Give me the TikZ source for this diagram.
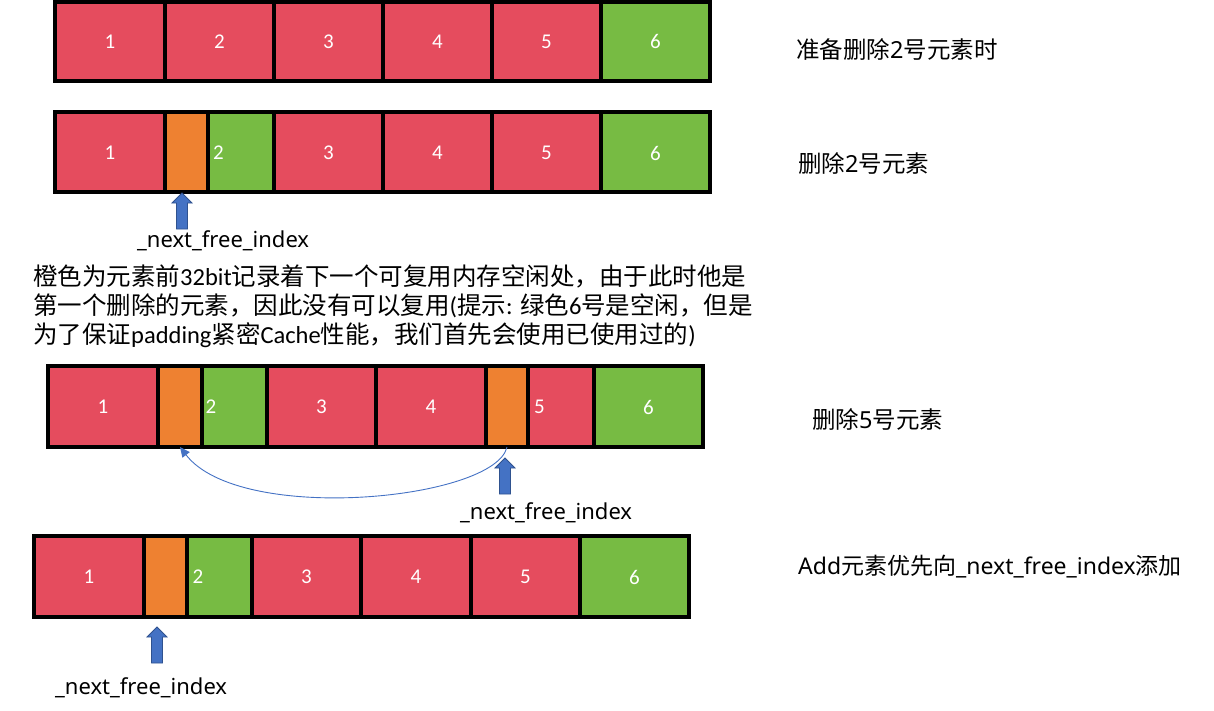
\documentclass[tikz,border=0pt]{standalone}
\usepackage{fontspec}
\setmainfont{Carlito}
\newfontfamily\cjk{Noto Sans CJK SC}
\newfontfamily\nsans{Noto Sans}
\usetikzlibrary{arrows.meta}
\definecolor{cred}{HTML}{E54C5E}
\definecolor{cgreen}{HTML}{77BB43}
\definecolor{corange}{HTML}{EE8131}
\definecolor{cblue}{HTML}{4472C4}
\definecolor{cbluedk}{HTML}{2F528F}
\newcommand\mycell[6]{\node[cell,fill=#6,minimum width={#3-(#2)},minimum height={#5-(#4)}] (#1) at ({(#2+#3)/2},{(#4+#5)/2}) {};}
\newcommand\blockarr[1]{\draw[barr] ([shift={(-5.5,36)}]#1) -- ([shift={(-5.5,10)}]#1) -- ([shift={(-10,10)}]#1) -- (#1) -- ([shift={(10,10)}]#1) -- ([shift={(5.5,10)}]#1) -- ([shift={(5.5,36)}]#1) -- cycle;}
\newcommand\lat[1]{{\rmfamily #1}}
\begin{document}
\begin{tikzpicture}[x=1pt,y=-1pt,
  cell/.style={draw=black,line width=3.6pt,inner sep=0pt,outer sep=0pt},
  num/.style={text=white,font=\fontsize{21}{25}\selectfont,inner sep=0pt},
  barr/.style={fill=cblue,draw=cbluedk,line width=0.8pt,line join=miter},
  idx/.style={font=\nsans\fontsize{22}{26}\selectfont,inner sep=0pt,anchor=base west},
  side/.style={font=\cjk\fontsize{23.5}{27}\selectfont,inner sep=0pt,anchor=base west},
  para/.style={font=\cjk\fontsize{24.5}{29}\selectfont,inner sep=0pt,anchor=base west},
  curv/.style={draw=cblue,line width=0.9pt,-{Triangle[length=10pt,width=9pt]}}]
\useasboundingbox (0,0) rectangle (1214,710);
% Row 1
\mycell{a1}{55}{165}{2}{81}{cred}
\mycell{a2}{165}{274}{2}{81}{cred}
\mycell{a3}{274}{383}{2}{81}{cred}
\mycell{a4}{383}{492}{2}{81}{cred}
\mycell{a5}{492}{601}{2}{81}{cred}
\mycell{a6}{601}{710}{2}{81}{cgreen}
\node[num] (na1) at (110,41.5) {1};
\node[num] (na2) at (219.5,41.5) {2};
\node[num] (na3) at (328.5,41.5) {3};
\node[num] (na4) at (437.5,41.5) {4};
\node[num] (na5) at (546.5,41.5) {5};
\node[num] (na6) at (655.5,41.5) {6};
\node[side] (ta) at (796,58) {准备删除{\nsans 2}号元素时};
% Row 2
\mycell{b1}{55}{165}{112}{192}{cred}
\mycell{bo}{165}{208}{112}{192}{corange}
\mycell{b2}{208}{274}{112}{192}{cgreen}
\mycell{b3}{274}{383}{112}{192}{cred}
\mycell{b4}{383}{492}{112}{192}{cred}
\mycell{b5}{492}{601}{112}{192}{cred}
\mycell{b6}{601}{710}{112}{192}{cgreen}
\node[num] (nb1) at (110,153) {1};
\node[num] (nb2) at (218.5,153) {2};
\node[num] (nb3) at (328.5,153) {3};
\node[num] (nb4) at (437.5,153) {4};
\node[num] (nb5) at (546.5,153) {5};
\node[num] (nb6) at (655.5,153) {6};
\node[side] (tb) at (798,172) {删除{\nsans 2}号元素};
\coordinate (tipb) at (182,193);
\blockarr{tipb}
\node[idx] (lb) at (137,247) {\_next\_free\_index};
% Paragraph
\node[para] (p1) at (33,285) {橙色为元素前\lat{32bit}记录着下一个可复用内存空闲处，由于此时他是};
\node[para] (p2) at (33,314) {第一个删除的元素，因此没有可以复用\lat{(}提示\lat{: }绿色\lat{6}号是空闲，但是};
\node[para] (p3) at (33,343) {为了保证\lat{padding}紧密\lat{Cache}性能，我们首先会使用已使用过的\lat{)}};
% Row 3
\mycell{c1}{48}{158}{366}{447}{cred}
\mycell{co1}{158}{202}{366}{447}{corange}
\mycell{c2}{202}{267}{366}{447}{cgreen}
\mycell{c3}{267}{376}{366}{447}{cred}
\mycell{c4}{376}{486}{366}{447}{cred}
\mycell{co2}{486}{528}{366}{447}{corange}
\mycell{c5}{528}{594}{366}{447}{cred}
\mycell{c6}{594}{703}{366}{447}{cgreen}
\node[num] (nc1) at (103,407) {1};
\node[num] (nc2) at (211,407) {2};
\node[num] (nc3) at (321.5,407) {3};
\node[num] (nc4) at (431,407) {4};
\node[num] (nc5) at (539.5,407) {5};
\node[num] (nc6) at (648.5,407) {6};
\node[side] (tc) at (812,428) {删除{\nsans 5}号元素};
\draw[curv] (co2.south) .. controls (495,500) and (240,525) .. (co1.south);
\coordinate (tipc) at (505,458);
\blockarr{tipc}
\node[idx] (lc) at (460,519) {\_next\_free\_index};
% Row 4
\mycell{d1}{34}{144}{536}{617}{cred}
\mycell{dox}{144}{187}{536}{617}{corange}
\mycell{d2}{187}{252}{536}{617}{cgreen}
\mycell{d3}{252}{361}{536}{617}{cred}
\mycell{d4}{361}{471}{536}{617}{cred}
\mycell{d5}{471}{580}{536}{617}{cred}
\mycell{d6}{580}{689}{536}{617}{cgreen}
\node[num] (nd1) at (89,577) {1};
\node[num] (nd2) at (198,577) {2};
\node[num] (nd3) at (306.5,577) {3};
\node[num] (nd4) at (416,577) {4};
\node[num] (nd5) at (525.5,577) {5};
\node[num] (nd6) at (634.5,577) {6};
\node[side,font=\cjk\fontsize{23}{27}\selectfont] (td) at (798,574) {{\nsans Add}元素优先向{\nsans \_next\_free\_index}添加};
\coordinate (tipd) at (157,627);
\blockarr{tipd}
\node[idx] (ld) at (55,694) {\_next\_free\_index};
\end{tikzpicture}
\end{document}
